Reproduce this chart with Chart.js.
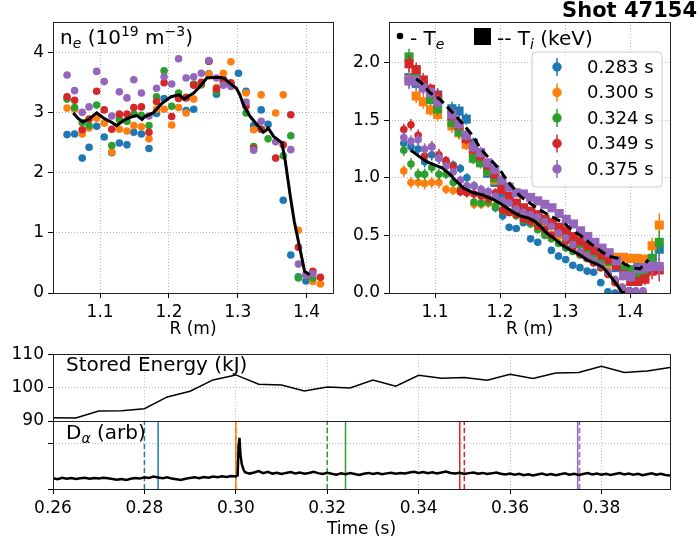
<!DOCTYPE html>
<html>
<head>
<meta charset="utf-8">
<script src="https://cdn.jsdelivr.net/npm/chart.js@4.4.1/dist/chart.umd.min.js"></script>
<style>
  body { margin: 0; background: #fff; }
  #wrap { position: relative; width: 700px; height: 540px; overflow: hidden; background: #fff; }
  canvas { position: absolute; }
  #shot { position: absolute; right: 3px; top: -1px; font: bold 21px "DejaVu Sans"; line-height: 23px; color: #000; }
</style>
</head>
<body>
<div id="wrap">
  <canvas id="ne-chart" width="340" height="340" style="left:0;top:0"></canvas>
  <canvas id="temp-chart" width="360" height="340" style="left:340px;top:0"></canvas>
  <canvas id="dalpha-chart" width="700" height="149" style="left:0;top:391px"></canvas>
  <canvas id="energy-chart" width="700" height="100" style="left:0;top:340px"></canvas>
  <div id="shot">Shot 47154</div>
</div>
<script>
// Time slices and their colours
const sliceTimes = [0.283, 0.300, 0.324, 0.349, 0.375];
const chersTimes = [0.283, 0.300, 0.324, 0.349, 0.3748];
const tsTimes = [0.280, 0.300, 0.320, 0.350, 0.3752];
const colors = ["#1f77b4", "#ff7f0e", "#2ca02c", "#d62728", "#9467bd"];

// Thomson scattering radii (m)
const tsR = [1.052, 1.063, 1.074, 1.084, 1.095, 1.106, 1.117, 1.128, 1.139, 1.149, 1.160, 1.171,
  1.182, 1.193, 1.204, 1.214, 1.225, 1.236, 1.247, 1.258, 1.269, 1.279, 1.290, 1.301, 1.312,
  1.323, 1.334, 1.344, 1.355, 1.366, 1.377, 1.388, 1.399, 1.409, 1.420];

// n_e (1e19 m^-3) per time slice
const ne283 = [2.63, 2.64, 2.24, 2.42, 2.77, 2.59, 2.33, 2.49, 2.46, 2.67, 2.64, 2.40, 2.98, 3.23, null, null, 3.03,
  3.05, 3.46, 3.64, 3.30, 3.55, null, 3.65, 3.35, 2.78, 3.04, 2.80, null, 1.54, 0.63, 0.27, 0.20, null, null];
const ne300 = [3.07, 3.05, 2.64, 2.74, 2.90, 2.82, 2.34, 2.72, 2.69, 2.78, 2.76, 2.56, 3.05, 3.05, 2.79, 3.08, 2.99,
  3.22, 3.46, 3.63, 3.41, 3.65, 3.84, null, 3.32, 2.71, 3.29, null, 2.99, 3.29, null, 1.04, null, 0.19, 0.15];
const ne324 = [3.22, 3.08, 2.83, 2.78, 3.12, null, 2.45, 2.88, 2.85, 2.97, 2.95, 2.78, 3.26, 3.69, 3.10, 3.32, 3.25,
  3.47, 3.47, 3.85, 3.35, 3.50, 3.46, null, 2.99, 2.43, 2.72, 2.56, null, 2.28, 2.61, 0.25, null, 0.25, null];
const ne349 = [3.26, 3.20, 2.71, 2.89, 3.35, 3.04, 2.72, 2.97, 2.97, 3.08, 3.09, 2.67, 3.18, 3.49, 2.93, 3.23, 3.24,
  3.45, 3.50, 3.85, 3.39, 3.54, 3.49, null, 3.10, 2.40, 2.72, null, 2.24, 2.46, 2.96, 0.76, 0.30, 0.36, 0.26];
const ne375 = [3.62, 3.36, 3.00, 3.09, 3.68, 3.51, 2.94, 3.34, 3.24, 3.54, 3.32, 2.94, 3.40, 3.59, 3.47, 3.89, 3.57,
  3.59, 3.65, 3.86, 3.57, 3.45, 3.43, null, 3.17, 2.37, 2.85, null, 2.51, null, 2.38, 0.48, 0.29, 0.32, null];

// n_e profile fit
const neFitR = [1.061, 1.068, 1.075, 1.083, 1.095, 1.107, 1.116, 1.124, 1.136, 1.145, 1.153, 1.161, 1.165, 1.177,
  1.189, 1.203, 1.215, 1.222, 1.230, 1.236, 1.245, 1.255, 1.265, 1.275, 1.282, 1.291, 1.298, 1.303, 1.308, 1.318,
  1.330, 1.337, 1.341, 1.344, 1.352, 1.361, 1.364, 1.369, 1.376, 1.382, 1.388, 1.394, 1.397, 1.401, 1.404];
const neFit = [2.99, 2.90, 2.84, 2.88, 2.99, 2.89, 2.84, 2.78, 2.88, 2.92, 2.95, 2.88, 2.93, 2.99, 3.14, 3.26, 3.29,
  3.22, 3.28, 3.32, 3.43, 3.57, 3.58, 3.58, 3.55, 3.46, 3.40, 3.29, 3.13, 2.93, 2.77, 2.67, 2.70, 2.74, 2.60, 2.52,
  2.50, 2.19, 1.63, 1.19, 0.86, 0.53, 0.36, 0.33, 0.30];

// T_e (keV) per time slice, on tsR
const te283 = [1.30, 1.27, 1.25, 1.14, 1.20, 1.17, 1.14, 1.11, 1.08, 1.00, 0.93, 0.87, 0.82, 0.74, 0.67, 0.57, 0.56,
  0.61, 0.47, 0.44, 0.52, 0.37, 0.32, 0.29, 0.24, 0.22, 0.19, 0.18, 0.09, 0.01, 0.0, 0.0, null, null, null];
const te300 = [1.06, 0.96, 0.96, 0.95, 0.96, 0.96, 0.90, 0.89, 0.88, 0.87, 0.77, 0.77, 0.78, 0.76, 0.72, 0.70, 0.68,
  0.66, 0.63, 0.60, 0.57, 0.51, 0.49, 0.45, 0.40, 0.35, 0.33, 0.30, 0.27, 0.20, 0.10, 0.05, 0.02, 0.0, null];
const te324 = [1.24, 1.12, 1.03, 1.03, 1.09, 1.03, 1.03, 0.96, 0.90, 0.88, 0.79, 0.78, 0.79, 0.75, 0.71, 0.70, 0.67,
  0.63, 0.60, 0.55, 0.50, 0.47, 0.43, 0.39, 0.36, 0.33, 0.30, 0.27, 0.22, 0.17, 0.10, 0.05, 0.02, 0.0, null];
const te349 = [1.42, 1.46, 1.37, 1.19, 1.27, 1.20, 1.15, 1.10, 0.88, 0.87, 0.86, 0.84, 0.82, 0.87, 0.72, 0.70, 0.68,
  0.64, 0.62, 0.58, 0.55, 0.50, 0.52, 0.45, 0.40, 0.34, 0.30, 0.26, 0.22, 0.16, 0.09, 0.03, 0.02, 0.0, 0.0];
const te375 = [1.35, 1.32, 1.33, 1.25, 1.27, 1.17, 1.10, 1.05, 0.98, 0.93, 0.93, 0.90, 0.88, 0.84, 0.80, 0.78, 0.73,
  0.70, 0.68, 0.66, 0.62, 0.58, 0.52, 0.48, 0.42, 0.36, 0.32, 0.28, 0.24, 0.18, 0.12, 0.05, 0.02, 0.02, 0.02];
const teErr = [0.05, 0.05, 0.05, 0.05, 0.05, 0.05, 0.04, 0.04, 0.04, 0.04, 0.04, 0.04, 0.04, 0.04, 0.04, 0.03, 0.03,
  0.03, 0.03, 0.03, 0.03, 0.03, 0.03, 0.03, 0.03, 0.03, 0.03, 0.03, 0.03, 0.03, 0.03, 0.03, 0.03, 0.03, 0.03];

// CHERS radii (m) and T_i (keV) per time slice
const chersR = [1.060, 1.071, 1.082, 1.093, 1.104, 1.126, 1.137, 1.148, 1.159, 1.170, 1.181, 1.192, 1.203, 1.214,
  1.225, 1.236, 1.247, 1.258, 1.269, 1.280, 1.291, 1.302, 1.313, 1.324, 1.335, 1.346, 1.357, 1.368, 1.379, 1.390,
  1.401, 1.412, 1.423, 1.434, 1.445];
const ti283 = [1.87, 1.82, 1.81, 1.72, 1.72, 1.60, 1.58, 1.51, 1.30, 1.20, 1.04, 0.96, 0.84, 0.80, 0.75, 0.72, 0.70,
  0.66, 0.62, 0.60, 0.57, 0.52, 0.47, 0.44, 0.40, 0.36, 0.32, 0.28, 0.22, 0.22, 0.20, 0.22, 0.27, 0.30, 0.38];
const ti300 = [1.85, 1.71, 1.66, 1.59, 1.55, 1.45, 1.39, 1.29, 1.22, 1.17, 1.06, 0.98, 0.90, 0.82, 0.77, 0.73, 0.70,
  0.67, 0.63, 0.60, 0.56, 0.52, 0.48, 0.44, 0.40, 0.36, 0.33, 0.31, 0.31, 0.31, 0.30, 0.30, 0.29, 0.41, 0.59];
const ti324 = [2.05, 1.92, 1.79, 1.68, 1.60, 1.48, 1.40, 1.35, 1.17, 1.13, 1.06, 1.00, 0.93, 0.80, 0.76, 0.72, 0.69,
  0.66, 0.63, 0.59, 0.55, 0.51, 0.47, 0.43, 0.39, 0.35, 0.30, 0.27, 0.25, 0.22, 0.20, 0.16, 0.18, 0.30, 0.44];
const ti349 = [1.99, 1.94, 1.85, 1.77, 1.71, 1.54, 1.46, 1.34, 1.25, 1.19, 1.11, 1.03, 0.90, 0.84, 0.78, 0.74, 0.71,
  0.68, 0.64, 0.61, 0.57, 0.54, 0.49, 0.45, 0.41, 0.37, 0.33, 0.29, 0.24, 0.16, 0.10, 0.10, 0.12, 0.19, 0.20];
const ti375 = [1.84, 1.84, 1.78, 1.74, 1.66, 1.55, 1.47, 1.37, 1.27, 1.22, 1.13, 1.07, 0.98, 0.92, 0.87, 0.86, 0.83,
  0.80, 0.77, 0.74, 0.69, 0.64, 0.60, 0.54, 0.49, 0.44, 0.39, 0.35, 0.28, 0.15, 0.14, 0.21, 0.22, 0.23, 0.23];
const tiErr = [0.07, 0.06, 0.06, 0.05, 0.06, 0.06, 0.06, 0.05, 0.05, 0.05, 0.04, 0.04, 0.04, 0.04, 0.04, 0.03, 0.03,
  0.03, 0.03, 0.03, 0.03, 0.03, 0.03, 0.03, 0.03, 0.03, 0.03, 0.03, 0.03, 0.04, 0.04, 0.04, 0.05, 0.07, 0.10];

// Profile fits for T_e (solid) and T_i (dashed)
const teFitR = [1.063, 1.077, 1.087, 1.100, 1.110, 1.123, 1.131, 1.144, 1.159, 1.174, 1.190, 1.200, 1.213, 1.221,
  1.231, 1.244, 1.254, 1.262, 1.272, 1.282, 1.292, 1.303, 1.313, 1.323, 1.336, 1.349, 1.359, 1.372, 1.380, 1.387, 1.392];
const teFit = [1.24, 1.18, 1.14, 1.11, 1.09, 1.03, 0.98, 0.91, 0.87, 0.85, 0.81, 0.78, 0.73, 0.70, 0.67, 0.65, 0.62,
  0.58, 0.52, 0.48, 0.43, 0.39, 0.36, 0.33, 0.28, 0.25, 0.22, 0.13, 0.07, 0.01, 0.0];
const tiFitR = [1.071, 1.082, 1.092, 1.108, 1.123, 1.133, 1.144, 1.159, 1.169, 1.180, 1.190, 1.200, 1.210, 1.221,
  1.231, 1.241, 1.251, 1.262, 1.274, 1.287, 1.300, 1.310, 1.326, 1.341, 1.356, 1.367, 1.382, 1.392, 1.403, 1.415,
  1.423, 1.428];
const tiFit = [1.86, 1.81, 1.74, 1.68, 1.59, 1.53, 1.46, 1.36, 1.26, 1.19, 1.13, 1.07, 0.98, 0.91, 0.84, 0.80, 0.76,
  0.72, 0.68, 0.64, 0.60, 0.55, 0.49, 0.42, 0.36, 0.32, 0.30, 0.25, 0.22, 0.21, 0.25, 0.29];

// Stored energy (kJ)
const energyT = [0.260, 0.265, 0.270, 0.275, 0.280, 0.285, 0.290, 0.295, 0.300, 0.305, 0.310, 0.315, 0.320, 0.325,
  0.330, 0.335, 0.340, 0.345, 0.350, 0.355, 0.360, 0.365, 0.370, 0.375, 0.380, 0.385, 0.390, 0.395];
const energyKJ = [91.0, 90.9, 93.0, 93.1, 93.7, 97.2, 98.9, 102.3, 103.8, 101.0, 100.8, 99.0, 100.2, 99.9, 102.3,
  100.4, 103.7, 102.8, 103.0, 102.2, 104.0, 102.7, 104.4, 104.5, 106.4, 104.5, 105.0, 106.0];

// D-alpha trace (arb), [time, value]
const dalpha = [[0.260, 0.47], [0.261, 0.43], [0.262, 0.49], [0.263, 0.45], [0.264, 0.48], [0.265, 0.44],
  [0.266, 0.47], [0.267, 0.50], [0.268, 0.45], [0.269, 0.48], [0.270, 0.46], [0.271, 0.50], [0.272, 0.47],
  [0.273, 0.44], [0.274, 0.41], [0.275, 0.44], [0.276, 0.40], [0.277, 0.45], [0.278, 0.48], [0.279, 0.46],
  [0.280, 0.52], [0.281, 0.49], [0.282, 0.55], [0.283, 0.51], [0.284, 0.48], [0.285, 0.52], [0.286, 0.46],
  [0.287, 0.43], [0.288, 0.40], [0.289, 0.45], [0.290, 0.49], [0.291, 0.52], [0.292, 0.48], [0.293, 0.53],
  [0.294, 0.50], [0.295, 0.55], [0.296, 0.52], [0.297, 0.56], [0.298, 0.53], [0.299, 0.57], [0.300, 0.55],
  [0.3004, 0.60], [0.3006, 1.90], [0.3008, 2.26], [0.3010, 1.55], [0.3013, 1.10], [0.3017, 0.85],
  [0.302, 0.74], [0.303, 0.68], [0.304, 0.73], [0.305, 0.79], [0.306, 0.70], [0.307, 0.76], [0.308, 0.68],
  [0.309, 0.72], [0.310, 0.66], [0.311, 0.71], [0.312, 0.75], [0.313, 0.69], [0.314, 0.73], [0.315, 0.67],
  [0.316, 0.71], [0.317, 0.76], [0.318, 0.70], [0.319, 0.66], [0.320, 0.72], [0.321, 0.67], [0.322, 0.63],
  [0.323, 0.69], [0.324, 0.65], [0.325, 0.70], [0.326, 0.66], [0.327, 0.62], [0.328, 0.67], [0.329, 0.71],
  [0.330, 0.66], [0.331, 0.70], [0.332, 0.65], [0.333, 0.69], [0.334, 0.72], [0.335, 0.67], [0.336, 0.71],
  [0.337, 0.68], [0.338, 0.73], [0.339, 0.76], [0.340, 0.71], [0.341, 0.75], [0.342, 0.70], [0.343, 0.74],
  [0.344, 0.69], [0.345, 0.73], [0.346, 0.77], [0.347, 0.71], [0.348, 0.68], [0.349, 0.72], [0.350, 0.66],
  [0.351, 0.70], [0.352, 0.73], [0.353, 0.67], [0.354, 0.71], [0.355, 0.66], [0.356, 0.69], [0.357, 0.73],
  [0.358, 0.67], [0.359, 0.64], [0.360, 0.68], [0.361, 0.63], [0.362, 0.67], [0.363, 0.61], [0.364, 0.65],
  [0.365, 0.60], [0.366, 0.64], [0.367, 0.68], [0.368, 0.62], [0.369, 0.66], [0.370, 0.61], [0.371, 0.65],
  [0.372, 0.69], [0.373, 0.63], [0.374, 0.67], [0.375, 0.62], [0.376, 0.66], [0.377, 0.70], [0.378, 0.64],
  [0.379, 0.68], [0.380, 0.63], [0.381, 0.67], [0.382, 0.62], [0.383, 0.66], [0.384, 0.70], [0.385, 0.64],
  [0.386, 0.68], [0.387, 0.63], [0.388, 0.67], [0.389, 0.61], [0.390, 0.65], [0.391, 0.69], [0.392, 0.63],
  [0.393, 0.67], [0.394, 0.62], [0.395, 0.60]];

// Tick positions
const profileXTicks = [1.1, 1.2, 1.3, 1.4];
const neYTicks = [0, 1, 2, 3, 4];
const tempYTicks = [0, 0.5, 1.0, 1.5, 2.0];
const timeTicks = [0.26, 0.28, 0.30, 0.32, 0.34, 0.36, 0.38];
const energyTicks = [90, 100, 110];
const dalphaTicks = [0, 2];

Chart.defaults.font.family = "'DejaVu Sans', sans-serif";
Chart.defaults.font.size = 17;
Chart.defaults.color = "#000";

const neSeries = [ne283, ne300, ne324, ne349, ne375];
const teSeries = [te283, te300, te324, te349, te375];
const tiSeries = [ti283, ti300, ti324, ti349, ti375];

function pts(xs, ys, errs) {
  return xs.map((x, i) => ({ x: x, y: ys[i], e: errs ? errs[i] : 0 })).filter(p => p.y !== null);
}

function drawRich(ctx, x, y, parts) {
  parts.forEach(([text, size, dy, italic]) => {
    ctx.font = (italic ? "italic " : "") + size + "px 'DejaVu Sans'";
    ctx.fillText(text, x, y + (dy || 0));
    x += ctx.measureText(text).width;
  });
  return x;
}

// Axis box drawn like matplotlib spines
const frame = {
  id: "frame",
  afterDraw(chart) {
    const { ctx, chartArea: a } = chart;
    ctx.save();
    ctx.strokeStyle = "#222";
    ctx.lineWidth = 1;
    ctx.strokeRect(Math.round(a.left) + 0.5, Math.round(a.top) + 0.5,
      Math.round(a.right - a.left), Math.round(a.bottom - a.top));
    ctx.restore();
  }
};

// Vertical error bars read from point.e
const errorBars = {
  id: "errorBars",
  beforeDatasetDraw(chart, args) {
    const ds = chart.data.datasets[args.index];
    if (!ds.errBars) return;
    const { ctx, chartArea: a, scales } = chart;
    ctx.save();
    ctx.beginPath();
    ctx.rect(a.left, a.top, a.right - a.left, a.bottom - a.top);
    ctx.clip();
    ctx.strokeStyle = ds.pointBackgroundColor;
    ctx.lineWidth = 1.5;
    ds.data.forEach(p => {
      const px = scales.x.getPixelForValue(p.x);
      ctx.beginPath();
      ctx.moveTo(px, scales.y.getPixelForValue(p.y - p.e));
      ctx.lineTo(px, scales.y.getPixelForValue(p.y + p.e));
      ctx.stroke();
    });
    ctx.restore();
  }
};

function xAxis(min, max, ticks, fmt, title, height) {
  return {
    type: "linear", min: min, max: max,
    afterBuildTicks: s => { s.ticks = ticks.map(v => ({ value: v })); },
    afterFit: s => { s.height = height; },
    ticks: { display: !!fmt, callback: v => (fmt ? fmt(v) : ""), autoSkip: false, maxRotation: 0, padding: 4 },
    grid: { color: "#bbb", lineWidth: 1, drawTicks: !!fmt, tickColor: "#000", tickLength: 5, tickWidth: 1, tickBorderDash: [] },
    border: { display: false, dash: [1, 2] },
    title: title ? { display: true, text: title, padding: { top: 0, bottom: 0 } } : { display: false }
  };
}

function yAxis(min, max, ticks, fmt, width) {
  return {
    type: "linear", min: min, max: max,
    afterBuildTicks: s => { s.ticks = ticks.map(v => ({ value: v })); },
    afterFit: s => { s.width = width; },
    ticks: { callback: v => fmt(v), autoSkip: false, padding: 4 },
    grid: { color: "#bbb", lineWidth: 1, tickColor: "#000", tickLength: 5, tickWidth: 1, tickBorderDash: [] },
    border: { display: false, dash: [1, 2] }
  };
}

function baseOptions(padding, scales) {
  return {
    responsive: false,
    animation: false,
    events: [],
    layout: { autoPadding: false, padding: padding },
    plugins: { legend: { display: false }, tooltip: { enabled: false } },
    scales: scales
  };
}

function fitLine(xs, ys, dash) {
  return {
    data: pts(xs, ys), showLine: true, borderColor: "#000", borderWidth: 3,
    borderDash: dash || [], pointRadius: 0, order: 0
  };
}

// Density profile panel
const neDatasets = neSeries.map((vals, i) => ({
  data: pts(tsR, vals), pointBackgroundColor: colors[i], pointBorderWidth: 0,
  pointRadius: 3.8, order: 20 - i
}));
neDatasets.push(fitLine(neFitR, neFit));

new Chart(document.getElementById("ne-chart"), {
  type: "scatter",
  data: { datasets: neDatasets },
  options: baseOptions({ top: 22, right: 7, left: 0, bottom: 0 }, {
    x: xAxis(1.0316, 1.4383, profileXTicks, v => v.toFixed(1), "R (m)", 47),
    y: yAxis(0, 4.5, neYTicks, v => String(v), 53)
  }),
  plugins: [frame, {
    id: "neLabel",
    afterDraw(chart) {
      const ctx = chart.ctx;
      ctx.save();
      ctx.fillStyle = "#000";
      drawRich(ctx, 60, 44, [["n", 20], ["e", 14, 4, true], [" (10", 20], ["19", 14, -8], [" m", 20], ["\u22123", 14, -8], [")", 20]]);
      ctx.restore();
    }
  }]
});

// Temperature profile panel
const tempDatasets = [];
for (let i = 0; i < 5; i++) {
  tempDatasets.push({
    data: pts(tsR, teSeries[i], teErr), errBars: true, pointBackgroundColor: colors[i],
    pointBorderWidth: 0, pointRadius: 3.8, order: 40 - 2 * i
  });
  tempDatasets.push({
    data: pts(chersR, tiSeries[i], tiErr), errBars: true, pointBackgroundColor: colors[i],
    pointBorderWidth: 0, pointRadius: 6.4, pointStyle: "rect", order: 39 - 2 * i
  });
}
tempDatasets.push(fitLine(teFitR, teFit));
tempDatasets.push(fitLine(tiFitR, tiFit, [9, 5]));

new Chart(document.getElementById("temp-chart"), {
  type: "scatter",
  data: { datasets: tempDatasets },
  options: baseOptions({ top: 22, right: 30, left: 0, bottom: 0 }, {
    x: xAxis(1.0292, 1.4615, profileXTicks, v => v.toFixed(1), "R (m)", 47),
    y: yAxis(0, 2.353, tempYTicks, v => v.toFixed(1), 49)
  }),
  plugins: [errorBars, frame, {
    id: "tempLabels",
    afterDraw(chart) {
      const ctx = chart.ctx;
      ctx.save();
      ctx.fillStyle = "#000";
      ctx.beginPath();
      ctx.arc(60, 36, 3.3, 0, 2 * Math.PI);
      ctx.fill();
      drawRich(ctx, 70, 45, [["- T", 20], ["e", 14, 4, true]]);
      ctx.fillRect(134, 28, 17, 17);
      drawRich(ctx, 157, 45, [["-- T", 20], ["i", 14, 4, true], [" (keV)", 20]]);

      // legend box
      const bx = 192, by = 52, bw = 130, bh = 135, r = 4;
      ctx.beginPath();
      ctx.moveTo(bx + r, by);
      ctx.arcTo(bx + bw, by, bx + bw, by + bh, r);
      ctx.arcTo(bx + bw, by + bh, bx, by + bh, r);
      ctx.arcTo(bx, by + bh, bx, by, r);
      ctx.arcTo(bx, by, bx + bw, by, r);
      ctx.closePath();
      ctx.fillStyle = "rgba(255,255,255,0.8)";
      ctx.fill();
      ctx.strokeStyle = "#ccc";
      ctx.lineWidth = 1;
      ctx.stroke();

      ctx.font = "18px 'DejaVu Sans'";
      ctx.textBaseline = "middle";
      sliceTimes.forEach((t, i) => {
        const y = 67 + i * 25.5;
        ctx.strokeStyle = colors[i];
        ctx.lineWidth = 1.5;
        ctx.beginPath();
        ctx.moveTo(217, y - 9);
        ctx.lineTo(217, y + 9);
        ctx.stroke();
        ctx.fillStyle = colors[i];
        ctx.beginPath();
        ctx.arc(217, y, 4.7, 0, 2 * Math.PI);
        ctx.fill();
        ctx.fillStyle = "#000";
        ctx.fillText(t.toFixed(3) + " s", 247, y + 1);
      });
      ctx.restore();
    }
  }]
});

// Stored energy panel
new Chart(document.getElementById("energy-chart"), {
  type: "scatter",
  data: {
    datasets: [{
      data: pts(energyT, energyKJ), showLine: true, borderColor: "#000", borderWidth: 1.5, pointRadius: 0
    }]
  },
  options: baseOptions({ top: 14, right: 30, left: 0, bottom: 19 }, {
    x: xAxis(0.26, 0.395, timeTicks, null, null, 0),
    y: yAxis(90, 110, energyTicks, v => String(v), 53)
  }),
  plugins: [frame, {
    id: "energyLabel",
    afterDraw(chart) {
      const ctx = chart.ctx;
      ctx.save();
      ctx.fillStyle = "#000";
      ctx.font = "20px 'DejaVu Sans'";
      ctx.fillText("Stored Energy (kJ)", 66, 30.5);
      ctx.restore();
    }
  }]
});

// D-alpha panel with time-slice markers
const dalphaDatasets = [];
for (let i = 0; i < 5; i++) {
  dalphaDatasets.push({
    data: [{ x: chersTimes[i], y: 0 }, { x: chersTimes[i], y: 3 }], showLine: true,
    borderColor: colors[i], borderWidth: 1.5, pointRadius: 0, order: 5
  });
  dalphaDatasets.push({
    data: [{ x: tsTimes[i], y: 0 }, { x: tsTimes[i], y: 3 }], showLine: true,
    borderColor: colors[i], borderWidth: 1.5, borderDash: [5, 3], pointRadius: 0, order: 5
  });
}
dalphaDatasets.push({
  data: dalpha.map(([t, v]) => ({ x: t, y: v })), showLine: true,
  borderColor: "#000", borderWidth: 2.5, pointRadius: 0, order: 0
});

new Chart(document.getElementById("dalpha-chart"), {
  type: "scatter",
  data: { datasets: dalphaDatasets },
  options: baseOptions({ top: 30, right: 30, left: 0, bottom: 0 }, {
    x: xAxis(0.26, 0.395, timeTicks, v => v.toFixed(2), "Time (s)", 51),
    y: yAxis(0, 3, dalphaTicks, () => "", 53)
  }),
  plugins: [frame, {
    id: "dalphaLabel",
    afterDraw(chart) {
      const ctx = chart.ctx;
      ctx.save();
      ctx.fillStyle = "#000";
      drawRich(ctx, 66, 48, [["D", 20], ["\u03b1", 14, 4, true], [" (arb)", 20]]);
      ctx.restore();
    }
  }]
});
</script>
</body>
</html>
